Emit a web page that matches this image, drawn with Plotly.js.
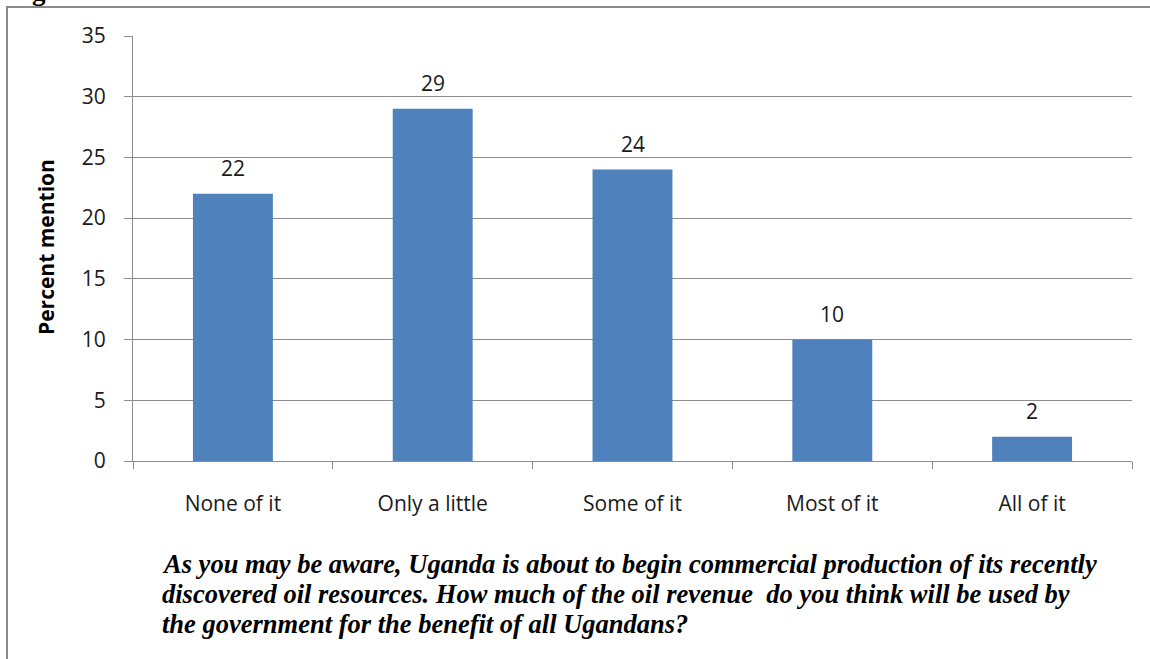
<!DOCTYPE html>
<html>
<head>
<meta charset="utf-8">
<script src="https://cdn.plot.ly/plotly-3.0.1.min.js"></script>
<style>html,body{margin:0;padding:0;background:#fff;}#chart{width:1150px;height:659px;}</style>
</head>
<body>
<div id="chart"></div>
<script>
const categories = ["None of it", "Only a little", "Some of it", "Most of it", "All of it"];
const values = [22, 29, 24, 10, 2];
const yTicks = [0, 5, 10, 15, 20, 25, 30, 35];
const yTitle = "Percent mention";
const captionLines = [
  "As you may be aware, Uganda is about to begin commercial production of its recently",
  "discovered oil resources. How much of the oil revenue  do you think will be used by",
  "the government for the benefit of all Ugandans?"
];
const topTitle = "Figure 4: Oil Revenue as a Public Good";

const W = 1150, H = 659;
const L = 133, R = 18, T = 36, B = 198;
const pw = W - L - R, ph = H - T - B;
const px = x => (x - L) / pw;
const py = y => (H - B - y) / ph;

const annotations = [];
values.forEach((v, i) => {
  annotations.push({
    x: categories[i], y: v, xref: 'x', yref: 'y', text: String(v),
    showarrow: false, yanchor: 'bottom', yshift: 10,
    font: {family: 'Open Sans', size: 21, color: '#1a1a1a'}
  });
});
annotations.push({
  x: px(46), y: py(247), xref: 'paper', yref: 'paper', text: '<b>' + yTitle + '</b>',
  textangle: -90, showarrow: false, xanchor: 'center', yanchor: 'middle',
  font: {family: 'Open Sans', size: 21, color: '#000'}
});
captionLines.forEach((t, i) => {
  annotations.push({
    x: px(160), y: py(564 + 30 * i), xref: 'paper', yref: 'paper',
    text: '<b><i>' + t + '</i></b>', showarrow: false, xanchor: 'left', yanchor: 'middle',
    font: {family: 'Liberation Serif', size: 26.5, color: '#000'}
  });
});
annotations.push({
  x: px(6), y: py(8), xref: 'paper', yref: 'paper', text: '<b>' + topTitle + '</b>',
  showarrow: false, xanchor: 'left', yanchor: 'bottom',
  font: {family: 'Liberation Serif', size: 27, color: '#000'}
});

const shapes = [
  {type: 'line', xref: 'paper', yref: 'paper', x0: px(7), x1: px(7), y0: py(7), y1: py(H + 5), line: {color: '#8a8a8a', width: 2}},
  {type: 'line', xref: 'paper', yref: 'paper', x0: px(6), x1: px(W + 5), y0: py(7), y1: py(7), line: {color: '#8a8a8a', width: 2}}
];

const trace = {
  type: 'bar', x: categories, y: values,
  marker: {color: '#4F81BD'}, hoverinfo: 'none'
};

const layout = {
  width: W, height: H,
  margin: {l: L, r: R, t: T, b: B, pad: 0},
  paper_bgcolor: '#fff', plot_bgcolor: '#fff',
  showlegend: false, bargap: 0.6,
  font: {family: 'Open Sans', color: '#1a1a1a'},
  xaxis: {
    type: 'category', showline: true, linecolor: '#8c8c8c', linewidth: 1,
    ticks: 'outside', tickson: 'boundaries', ticklen: 7, tickcolor: '#8c8c8c',
    tickfont: {family: 'Open Sans', size: 21, color: '#1a1a1a'},
    ticklabelstandoff: 24, showgrid: false, zeroline: false, fixedrange: true
  },
  yaxis: {
    range: [0, 35], tickvals: yTicks, ticktext: yTicks.map(String),
    showline: true, linecolor: '#8c8c8c', linewidth: 1,
    ticks: 'outside', ticklen: 8, tickcolor: '#8c8c8c',
    showgrid: true, gridcolor: '#8c8c8c', gridwidth: 1, zeroline: false,
    tickfont: {family: 'Open Sans', size: 21, color: '#1a1a1a'},
    ticklabelstandoff: 14, fixedrange: true
  },
  annotations: annotations,
  shapes: shapes
};

Plotly.newPlot('chart', [trace], layout, {displayModeBar: false, staticPlot: true});
</script>
</body>
</html>
